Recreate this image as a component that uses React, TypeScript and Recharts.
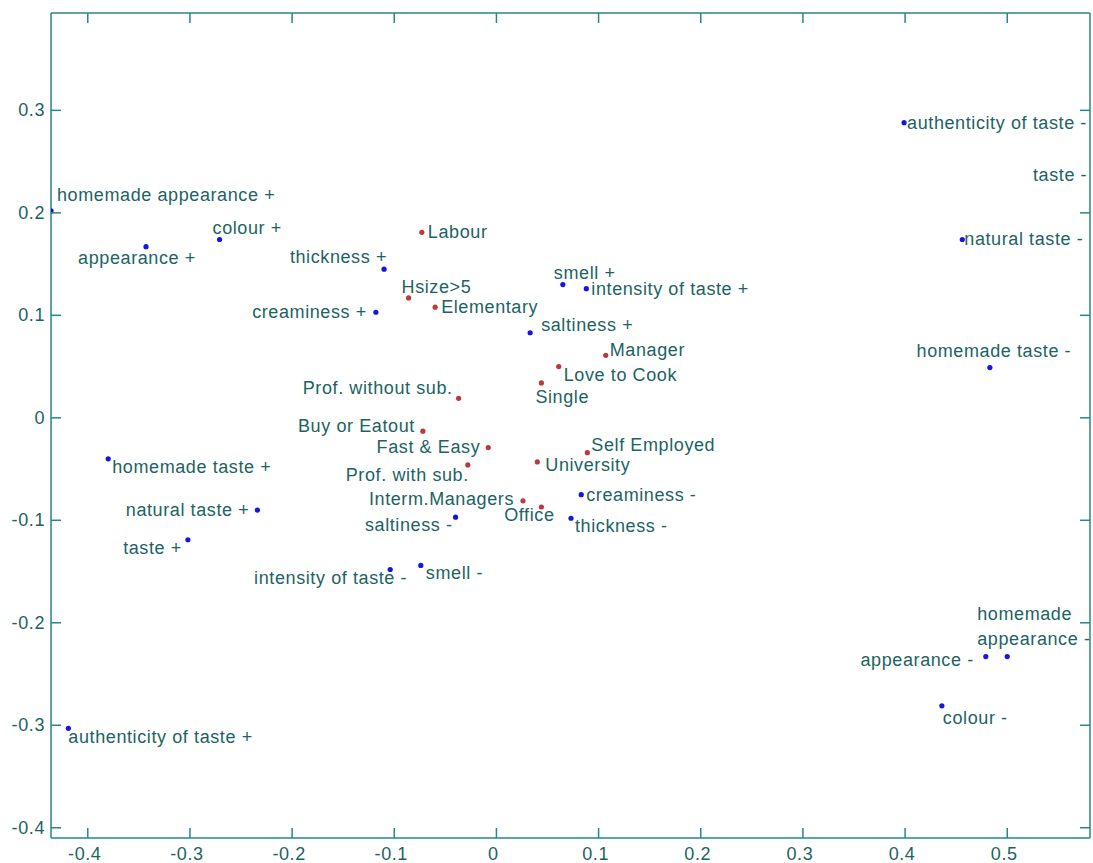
import { ScatterChart, Scatter, XAxis, YAxis, ReferenceLine } from 'recharts'

// attribute levels (blue)
const attrNames = [
  'homemade appearance +', 'appearance +', 'colour +', 'thickness +', 'creaminess +',
  'homemade taste +', 'natural taste +', 'taste +', 'intensity of taste -', 'smell -',
  'authenticity of taste +', 'saltiness -', 'thickness -', 'creaminess -', 'saltiness +',
  'smell +', 'intensity of taste +', 'authenticity of taste -', 'taste -', 'natural taste -',
  'homemade taste -', 'appearance -', 'homemade appearance -', 'colour -',
]
const attrX = [
  -0.436, -0.343, -0.271, -0.110, -0.118,
  -0.380, -0.234, -0.302, -0.104, -0.074,
  -0.419, -0.040, 0.073, 0.083, 0.033,
  0.065, 0.088, 0.399, 0.590, 0.456,
  0.483, 0.479, 0.500, 0.436,
]
const attrY = [
  0.202, 0.167, 0.174, 0.145, 0.103,
  -0.040, -0.090, -0.119, -0.148, -0.144,
  -0.303, -0.097, -0.098, -0.075, 0.083,
  0.130, 0.126, 0.288, 0.237, 0.174,
  0.049, -0.233, -0.233, -0.281,
]

// socio-demographic groups (red)
const socioNames = [
  'Labour', 'Hsize>5', 'Elementary', 'Manager', 'Love to Cook', 'Single',
  'Prof. without sub.', 'Buy or Eatout', 'Fast & Easy', 'Prof. with sub.',
  'University', 'Self Employed', 'Interm.Managers', 'Office',
]
const socioX = [-0.073, -0.086, -0.060, 0.107, 0.061, 0.044, -0.037, -0.072, -0.008, -0.028, 0.040, 0.089, 0.026, 0.044]
const socioY = [0.181, 0.117, 0.108, 0.061, 0.050, 0.034, 0.019, -0.013, -0.029, -0.046, -0.043, -0.034, -0.081, -0.087]

const xTicks = [-0.4, -0.3, -0.2, -0.1, 0, 0.1, 0.2, 0.3, 0.4, 0.5]
const yTicks = [-0.4, -0.3, -0.2, -0.1, 0, 0.1, 0.2, 0.3]
const X_DOMAIN: [number, number] = [-0.436, 0.581]
const Y_DOMAIN: [number, number] = [-0.41, 0.395]

// where each label sits relative to its dot: [anchor, dx, dy, wrap]
const placement: Record<string, [string, number, number, boolean?]> = {
  'homemade appearance +': ['start', 6, -16],
  'appearance +': ['middle', -9, 11],
  'colour +': ['start', -7, -11],
  'thickness +': ['end', 3, -12],
  'creaminess +': ['end', -9, 0],
  'homemade taste +': ['start', 4, 8],
  'natural taste +': ['end', -8, 0],
  'taste +': ['end', -6, 8],
  'intensity of taste -': ['end', 17, 9],
  'smell -': ['start', 5, 8],
  'authenticity of taste +': ['start', 0, 9],
  'saltiness -': ['end', -3, 8],
  'thickness -': ['start', 4, 8],
  'creaminess -': ['start', 5, 0],
  'saltiness +': ['start', 11, -8],
  'smell +': ['start', -9, -12],
  'intensity of taste +': ['start', 5, 0],
  'authenticity of taste -': ['start', 3, 0],
  'taste -': ['end', -12, 0],
  'natural taste -': ['start', 2, 0],
  'homemade taste -': ['middle', 4, -17],
  'appearance -': ['end', -12, 3],
  'homemade appearance -': ['start', -30, -43, true],
  'colour -': ['start', 1, 12],
  'Labour': ['start', 6, 0],
  'Hsize>5': ['start', -7, -11],
  'Elementary': ['start', 6, 0],
  'Manager': ['start', 4, -5],
  'Love to Cook': ['start', 5, 8],
  'Single': ['start', -6, 14],
  'Prof. without sub.': ['end', -6, -10],
  'Buy or Eatout': ['end', -8, -5],
  'Fast & Easy': ['end', -8, -1],
  'Prof. with sub.': ['end', 1, 10],
  'University': ['start', 8, 3],
  'Self Employed': ['start', 4, -8],
  'Interm.Managers': ['end', -9, -2],
  'Office': ['middle', -12, 8],
}

const attrData = attrNames.map((name, i) => ({ name, x: attrX[i], y: attrY[i] }))
const socioData = socioNames.map((name, i) => ({ name, x: socioX[i], y: socioY[i] }))

const W = 1093
const H = 863
const PLOT = { left: 51, right: 1090, top: 13, bottom: 838 }
const AXIS = '#23898a'
const TEXT = '#1c6363'
const FONT = '"Liberation Sans", Arial, sans-serif'

const textStyle = { fontFamily: FONT, fontSize: 18, letterSpacing: 0.6, fill: TEXT }

function Dot(color: string) {
  return (props: any) => {
    const { cx, cy, payload } = props
    const [anchor, dx, dy, wrap] = placement[payload.name] || ['start', 5, 0]
    const cut = payload.name.indexOf(' ')
    const lines = wrap ? [payload.name.slice(0, cut), payload.name.slice(cut + 1)] : [payload.name]
    return (
      <g>
        <circle cx={cx} cy={cy} r={2.6} fill={color} />
        {lines.map((ln: string, k: number) => (
          <text
            key={k}
            x={cx + dx}
            y={cy + dy + k * 25}
            textAnchor={anchor as any}
            dominantBaseline="central"
            style={textStyle}
          >
            {ln}
          </text>
        ))}
      </g>
    )
  }
}

function XTick(props: any) {
  const { x, y, payload } = props
  return (
    <g>
      <line x1={x} y1={y} x2={x} y2={y - 10} stroke={AXIS} strokeWidth={1.5} />
      <line x1={x} y1={PLOT.top} x2={x} y2={PLOT.top + 10} stroke={AXIS} strokeWidth={1.5} />
      <text x={x - 3} y={y + 16} textAnchor="middle" dominantBaseline="central" style={textStyle}>
        {String(payload.value)}
      </text>
    </g>
  )
}

function YTick(props: any) {
  const { x, y, payload } = props
  return (
    <g>
      <line x1={x} y1={y} x2={x + 10} y2={y} stroke={AXIS} strokeWidth={1.5} />
      <line x1={PLOT.right} y1={y} x2={PLOT.right - 10} y2={y} stroke={AXIS} strokeWidth={1.5} />
      <text x={x - 6} y={y} textAnchor="end" dominantBaseline="central" style={textStyle}>
        {String(payload.value)}
      </text>
    </g>
  )
}

export default function App() {
  return (
    <div style={{ position: 'absolute', left: 0, top: 0, width: W, height: H, background: '#fff' }}>
      <ScatterChart
        width={W}
        height={H}
        margin={{ top: PLOT.top, right: W - PLOT.right, bottom: 0, left: 0 }}
      >
        <XAxis
          type="number"
          dataKey="x"
          domain={X_DOMAIN}
          ticks={xTicks}
          interval={0}
          allowDataOverflow
          height={H - PLOT.bottom}
          tickSize={0}
          tickMargin={0}
          tickLine={false}
          axisLine={{ stroke: AXIS, strokeWidth: 1.5 }}
          tick={<XTick />}
        />
        <YAxis
          type="number"
          dataKey="y"
          domain={Y_DOMAIN}
          ticks={yTicks}
          interval={0}
          allowDataOverflow
          width={PLOT.left}
          tickSize={0}
          tickMargin={0}
          tickLine={false}
          axisLine={{ stroke: AXIS, strokeWidth: 1.5 }}
          tick={<YTick />}
        />
        <ReferenceLine y={Y_DOMAIN[1]} stroke={AXIS} strokeWidth={1.5} />
        <ReferenceLine x={X_DOMAIN[1]} stroke={AXIS} strokeWidth={1.5} />
        <Scatter data={attrData} shape={Dot('#1414e6')} isAnimationActive={false} />
        <Scatter data={socioData} shape={Dot('#b83a3a')} isAnimationActive={false} />
      </ScatterChart>
    </div>
  )
}
